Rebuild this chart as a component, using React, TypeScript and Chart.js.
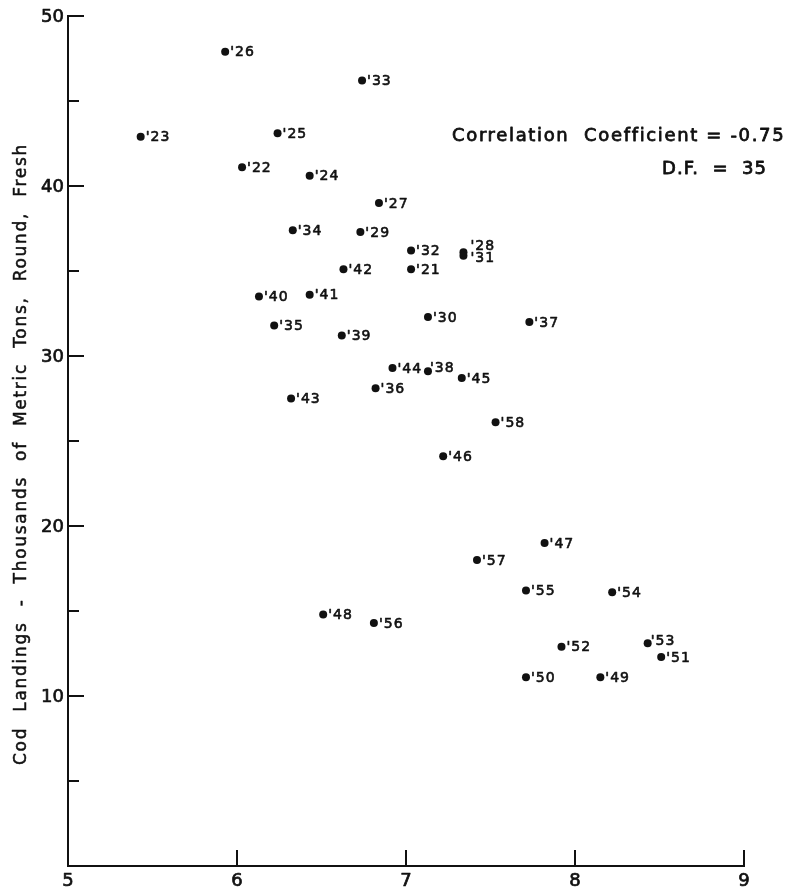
import React, { useEffect, useRef } from "react";
import { Chart, registerables } from "chart.js";

Chart.register(...registerables);

// Season (year of the 1900s) for each plotted point
const years = [
  "21", "22", "23", "24", "25", "26", "27", "28", "29", "30",
  "31", "32", "33", "34", "35", "36", "37", "38", "39", "40",
  "41", "42", "43", "44", "45", "46", "47", "48", "49", "50",
  "51", "52", "53", "54", "55", "56", "57", "58",
];

// Horizontal-axis value for each year
const xValues = [
  7.03, 6.03, 5.43, 6.43, 6.24, 5.93, 6.84, 7.34, 6.73, 7.13,
  7.34, 7.03, 6.74, 6.33, 6.22, 6.82, 7.73, 7.13, 6.62, 6.13,
  6.43, 6.63, 6.32, 6.92, 7.33, 7.22, 7.82, 6.51, 8.15, 7.71,
  8.51, 7.92, 8.43, 8.22, 7.71, 6.81, 7.42, 7.53,
];

// Cod landings, thousands of metric tons (round, fresh)
const landings = [
  35.1, 41.1, 42.9, 40.6, 43.1, 47.9, 39.0, 36.1, 37.3, 32.3,
  35.9, 36.2, 46.2, 37.4, 31.8, 28.1, 32.0, 29.1, 31.2, 33.5,
  33.6, 35.1, 27.5, 29.3, 28.7, 24.1, 19.0, 14.8, 11.1, 11.1,
  12.3, 12.9, 13.1, 16.1, 16.2, 14.3, 18.0, 26.1,
];

const xTickValues = [5, 6, 7, 8, 9];
const xTickLabels = ["5", "6", "7", "8", "9"];
const yTickValues = [5, 10, 15, 20, 25, 30, 35, 40, 45, 50];
const yTickLabels = ["", "10", "", "20", "", "30", "", "40", "", "50"];

const yTitle = "Cod Landings - Thousands of Metric Tons, Round, Fresh";
const statLine1 = "Correlation  Coefficient = -0.75";
const statLine2 = "D.F.  =  35";

// Small label shifts where neighbouring points crowd each other
const labelNudge: Record<string, [number, number]> = {
  "28": [2, -7],
  "31": [2, 2],
  "38": [-3, -4],
  "53": [-2, -3],
};

const INK = "#111";
const FONT = '"DejaVu Sans", "Liberation Sans", sans-serif';

// Fill text with a thin outline so the lettering reads heavier
function inkText(
  ctx: CanvasRenderingContext2D,
  text: string,
  x: number,
  y: number,
  weight: number
) {
  ctx.fillText(text, x, y);
  if (weight > 0) {
    ctx.lineWidth = weight;
    ctx.lineJoin = "round";
    ctx.strokeText(text, x, y);
  }
}

function fitText(
  ctx: CanvasRenderingContext2D,
  text: string,
  x: number,
  y: number,
  width: number,
  weight: number
) {
  (ctx as any).letterSpacing = "0px";
  const w = ctx.measureText(text).width;
  const ls = (width - w) / text.length;
  (ctx as any).letterSpacing = `${ls}px`;
  ctx.textAlign = "left";
  inkText(ctx, text, x, y, weight);
  (ctx as any).letterSpacing = "0px";
}

const pointLabels = {
  id: "pointLabels",
  afterDatasetsDraw(chart: any) {
    const { ctx } = chart;
    const meta = chart.getDatasetMeta(0);
    ctx.save();
    ctx.fillStyle = INK;
    ctx.strokeStyle = INK;
    ctx.font = `14px ${FONT}`;
    ctx.textAlign = "left";
    ctx.textBaseline = "middle";
    (ctx as any).letterSpacing = "1px";
    meta.data.forEach((el: any, i: number) => {
      const [dx, dy] = labelNudge[years[i]] ?? [0, 0];
      inkText(ctx, "'" + years[i], el.x + 5 + dx, el.y + 1 + dy, 0.6);
    });
    (ctx as any).letterSpacing = "0px";
    ctx.restore();
  },
};

const frame = {
  id: "frame",
  afterDraw(chart: any) {
    const { ctx } = chart;
    const xs = chart.scales.x;
    const ys = chart.scales.y;
    const left = xs.getPixelForValue(xs.min);
    const right = xs.getPixelForValue(xs.max);
    const bottom = ys.getPixelForValue(ys.min);
    const top = ys.getPixelForValue(ys.max);

    ctx.save();
    ctx.strokeStyle = INK;
    ctx.fillStyle = INK;
    ctx.lineWidth = 2;
    ctx.lineCap = "square";

    // axis lines
    ctx.beginPath();
    ctx.moveTo(left, top);
    ctx.lineTo(left, bottom);
    ctx.lineTo(right, bottom);
    ctx.stroke();

    // inward ticks
    ctx.beginPath();
    yTickValues.forEach((v, i) => {
      const py = ys.getPixelForValue(v);
      const len = yTickLabels[i] ? 15 : 10;
      ctx.moveTo(left, py);
      ctx.lineTo(left + len, py);
    });
    xTickValues.forEach((v) => {
      const px = xs.getPixelForValue(v);
      ctx.moveTo(px, bottom);
      ctx.lineTo(px, bottom - 15);
    });
    ctx.stroke();

    // tick labels
    ctx.font = `18px ${FONT}`;
    ctx.textAlign = "right";
    ctx.textBaseline = "middle";
    yTickValues.forEach((v, i) => {
      if (!yTickLabels[i]) return;
      inkText(ctx, yTickLabels[i], left - 4, ys.getPixelForValue(v) + 1, 0.7);
    });
    ctx.textAlign = "center";
    ctx.textBaseline = "top";
    xTickValues.forEach((v, i) => {
      inkText(ctx, xTickLabels[i], xs.getPixelForValue(v), bottom + 6, 0.7);
    });

    // vertical axis title
    ctx.save();
    ctx.translate(22, 454);
    ctx.rotate(-Math.PI / 2);
    ctx.font = `17px ${FONT}`;
    ctx.textBaseline = "middle";
    (ctx as any).wordSpacing = "8px";
    fitText(ctx, yTitle, -311, 0, 622, 0.5);
    (ctx as any).wordSpacing = "0px";
    ctx.restore();

    // statistics note
    ctx.font = `18px ${FONT}`;
    ctx.textBaseline = "middle";
    fitText(ctx, statLine1, 452, 136, 333, 0.8);
    fitText(ctx, statLine2, 662, 169, 105, 0.8);

    ctx.restore();
  },
};

export default function App() {
  const canvasRef = useRef<HTMLCanvasElement | null>(null);

  useEffect(() => {
    const canvas = canvasRef.current;
    if (!canvas) return;
    const points = xValues.map((x, i) => ({ x, y: landings[i] }));
    const chart = new Chart(canvas, {
      type: "scatter",
      data: {
        datasets: [
          {
            data: points,
            pointRadius: 4,
            pointBackgroundColor: INK,
            pointBorderColor: INK,
            pointBorderWidth: 0,
          },
        ],
      },
      options: {
        animation: false,
        responsive: false,
        events: [],
        layout: { padding: { left: 68, right: 45, top: 16, bottom: 26 } },
        scales: {
          x: { type: "linear", min: 5, max: 9, display: false },
          y: { type: "linear", min: 0, max: 50, display: false },
        },
        plugins: {
          legend: { display: false },
          tooltip: { enabled: false },
        },
      },
      plugins: [pointLabels, frame],
    });
    return () => chart.destroy();
  }, []);

  return (
    <div
      style={{
        position: "absolute",
        left: 0,
        top: 0,
        width: 789,
        height: 892,
        background: "#fff",
      }}
    >
      <canvas
        ref={canvasRef}
        width={789}
        height={892}
        style={{ width: 789, height: 892, display: "block" }}
      />
    </div>
  );
}
